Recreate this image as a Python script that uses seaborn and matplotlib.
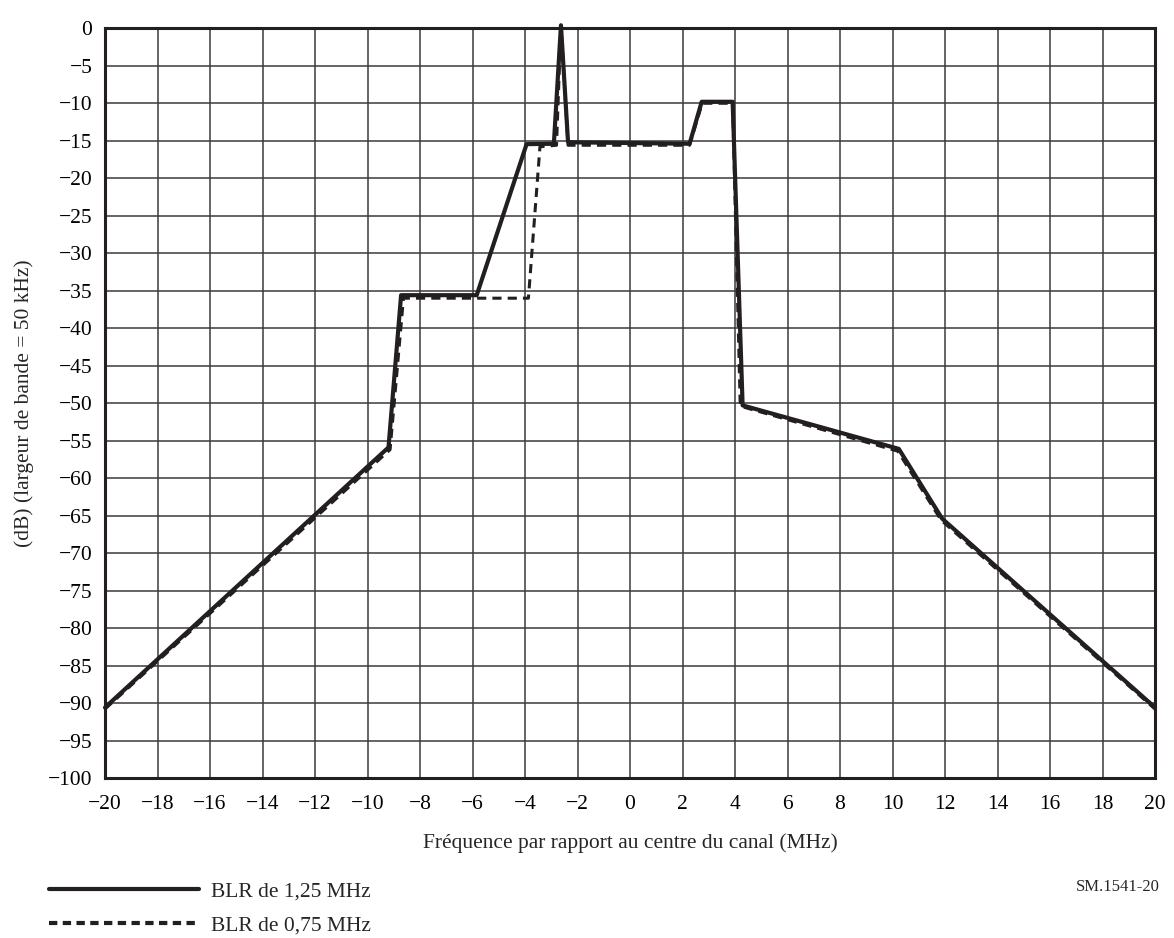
import matplotlib
matplotlib.use("Agg")
import matplotlib.pyplot as plt
from matplotlib.lines import Line2D
import seaborn as sns
import pandas as pd

# frequency offsets (MHz) and levels (dB)
freq_125 = [-20, -9.2, -8.72, -5.84, -3.94, -2.9, -2.63, -2.36, 2.27, 2.73, 3.91, 4.29, 10.24, 11.89, 20]
db_125 = [-90.6, -55.9, -35.6, -35.6, -15.45, -15.4, 0.4, -15.2, -15.4, -9.8, -9.8, -50.3, -56.1, -65.4, -90.6]

freq_075 = [-20, -9.14, -8.63, -3.87, -3.43, -2.8, -2.63, -2.36, 2.27, 2.75, 3.91, 4.2, 10.2, 11.85, 20]
db_075 = [-90.8, -56.2, -36.0, -36.0, -15.8, -15.6, 0.4, -15.6, -15.6, -10.0, -10.0, -50.4, -56.4, -65.6, -90.8]

labels = ["BLR de 1,25 MHz", "BLR de 0,75 MHz"]
x_ticks = list(range(-20, 21, 2))
y_ticks = list(range(-100, 1, 5))

ink = "#231f20"

sns.set_style("white")
plt.rcParams["font.family"] = ["Liberation Serif", "DejaVu Serif"]
plt.rcParams["font.size"] = 15.5
plt.rcParams["axes.unicode_minus"] = True

fig = plt.figure(figsize=(11.74, 9.38), dpi=100)
ax = fig.add_axes([105 / 1174, 1 - 778 / 938, (1155 - 105) / 1174, (778 - 28.3) / 938])

df_125 = pd.DataFrame({"f": freq_125, "db": db_125})
df_075 = pd.DataFrame({"f": freq_075, "db": db_075})

sns.lineplot(data=df_125, x="f", y="db", ax=ax, color=ink, linewidth=3.0,
             sort=False, estimator=None, zorder=3, clip_on=False)
sns.lineplot(data=df_075, x="f", y="db", ax=ax, color=ink, linewidth=2.2,
             sort=False, estimator=None, zorder=4, clip_on=False,
             dashes=False)
ax.lines[-1].set_dashes((3, 2))

ax.set_xlim(-20, 20)
ax.set_ylim(-100, 0)
ax.set_xticks(x_ticks)
ax.set_yticks(y_ticks)
ax.set_xticklabels([str(t).replace("-", "\u2212") for t in x_ticks])
ax.set_yticklabels([str(t).replace("-", "\u2212") for t in y_ticks])
ax.grid(True, color="#3a3a3a", linewidth=1.1)
ax.set_axisbelow(True)
for s in ax.spines.values():
    s.set_color(ink)
    s.set_linewidth(2.2)
ax.tick_params(axis="both", length=0, colors="black", labelsize=15.5)
ax.tick_params(axis="x", pad=12)
ax.tick_params(axis="y", pad=9)

ax.set_xlabel("Fréquence par rapport au centre du canal (MHz)", fontsize=15.5, labelpad=14)
ax.set_ylabel("(dB) (largeur de bande = 50 kHz)", fontsize=15.5, labelpad=10)

handles = [
    Line2D([0], [0], color=ink, linewidth=3.0),
    Line2D([0], [0], color=ink, linewidth=3.0, dashes=(2, 1.3)),
]
fig.legend(handles, labels, loc="upper left",
           bbox_to_anchor=(38 / 1174, 1 - 871 / 938),
           frameon=False, handlelength=7.0, handletextpad=0.55,
           labelspacing=0.62, borderpad=0, fontsize=15.5)

fig.text(1160 / 1174, 1 - 887 / 938, "SM.1541-20", ha="right", va="center", fontsize=12)

plt.savefig("out.png", dpi=100)
